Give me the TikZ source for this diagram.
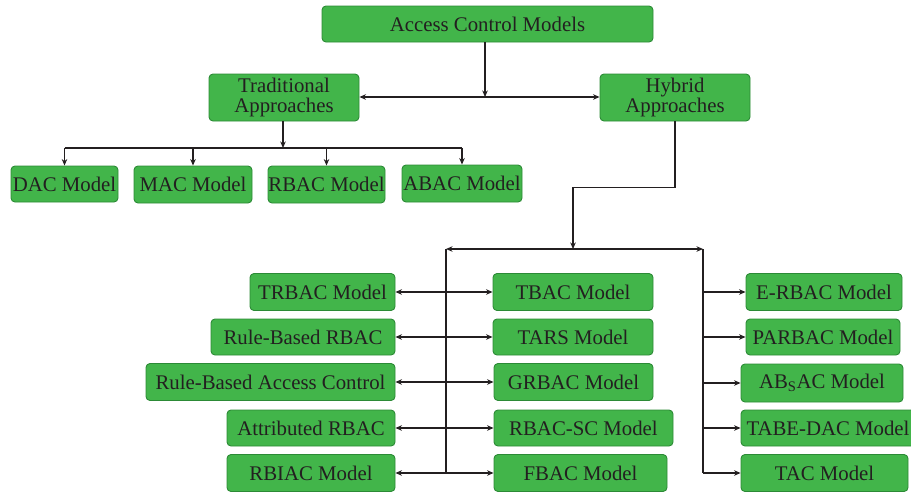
\documentclass[tikz,border=0pt]{standalone}
\usepackage{fontspec}
\setmainfont{Liberation Serif}
\usetikzlibrary{arrows.meta}
\definecolor{boxfill}{RGB}{66,181,74}
\definecolor{boxline}{RGB}{44,138,54}
\definecolor{ink}{RGB}{35,31,32}
\tikzset{
  box/.style={draw=boxline, fill=boxfill, line width=0.9pt, rounded corners=4pt,
    inner sep=0pt, text=ink, align=center,
    font=\fontsize{20.8}{20}\selectfont},
  link/.style={draw=ink, line width=1.6pt},
  arr/.style={link, -{Stealth[length=6.5pt,width=5.5pt]}},
  darr/.style={link, {Stealth[length=6.5pt,width=5.5pt]}-{Stealth[length=6.5pt,width=5.5pt]}}
}
\begin{document}
\begin{tikzpicture}[x=1pt, y=-1pt]
\path[use as bounding box, clip] (0,0) rectangle (911,491);

% top levels
\node[box, minimum width=331, minimum height=36] (acm) at (487.5,24) {Access Control Models};
\node[box, minimum width=150, minimum height=47] (trad) at (284,97.5) {Traditional\\Approaches};
\node[box, minimum width=150, minimum height=47] (hyb) at (675,97.5) {Hybrid\\Approaches};

% traditional models
\node[box, minimum width=107, minimum height=36] (dac) at (64.5,184) {DAC Model};
\node[box, minimum width=118, minimum height=37] (mac) at (193,184.5) {MAC Model};
\node[box, minimum width=117, minimum height=37] (rbac) at (326.5,184.5) {RBAC Model};
\node[box, minimum width=120, minimum height=37] (abac) at (462,183.5) {ABAC Model};

% hybrid models, left column
\node[box, minimum width=145, minimum height=37] (trbac) at (322.5,292) {TRBAC Model};
\node[box, minimum width=184, minimum height=36] (rbrbac) at (303,337) {Rule-Based RBAC};
\node[box, minimum width=249, minimum height=37] (rbacc) at (270.5,382) {Rule-Based Access Control};
\node[box, minimum width=168, minimum height=36] (attr) at (311,428) {Attributed RBAC};
\node[box, minimum width=168, minimum height=37] (rbiac) at (311,473) {RBIAC Model};

% hybrid models, middle column
\node[box, minimum width=160, minimum height=37] (tbac) at (573,292) {TBAC Model};
\node[box, minimum width=160, minimum height=36] (tars) at (573,337) {TARS Model};
\node[box, minimum width=159, minimum height=37] (grbac) at (573.5,382) {GRBAC Model};
\node[box, minimum width=179, minimum height=36] (rbacsc) at (583.5,428) {RBAC-SC Model};
\node[box, minimum width=173, minimum height=37] (fbac) at (580.5,473) {FBAC Model};

% hybrid models, right column
\node[box, minimum width=156, minimum height=37] (erbac) at (824,292) {E-RBAC Model};
\node[box, minimum width=154, minimum height=36] (parbac) at (823,337) {PARBAC Model};
\node[box, minimum width=162, minimum height=38] (absac) at (822,383) {AB\textsubscript{S}AC Model};
\node[box, minimum width=174, minimum height=36] (tabe) at (828,428) {TABE-DAC Model};
\node[box, minimum width=167, minimum height=37] (tac) at (824.5,473) {TAC Model};

% junction points
\coordinate (j1) at (485,97);
\coordinate (tb) at (283,148);
\coordinate (hb) at (573,249);
\coordinate (bl) at (446,249);
\coordinate (br) at (703,249);

% top split
\draw[arr] (acm.south -| j1) -- (j1);
\draw[darr] (trad.east |- j1) -- (hyb.west |- j1);

% traditional branch
\draw[arr] (trad.south -| tb) -- (tb);
\draw[link] (dac.north |- tb) -- (abac.north |- tb);
\foreach \n in {dac,mac,rbac,abac}
  \draw[arr] (\n.north |- tb) -- (\n.north);

% hybrid branch
\draw[arr] (hyb.south) -- ++(0,66) -| (hb);
\draw[darr] (bl) -- (br);
\draw[link] (bl) -- (bl |- fbac.west);
\draw[link] (br) -- (br |- tac.west);

% left and middle columns
\draw[darr] (trbac.east) -- (tbac.west);
\draw[darr] (rbrbac.east) -- (tars.west);
\draw[darr] (rbacc.east) -- (grbac.west);
\draw[darr] (attr.east) -- (rbacsc.west);
\draw[darr] (rbiac.east) -- (fbac.west);

% right column
\foreach \n in {erbac,parbac,absac,tabe,tac}
  \draw[arr] (br |- \n.west) -- (\n.west);
\end{tikzpicture}
\end{document}
